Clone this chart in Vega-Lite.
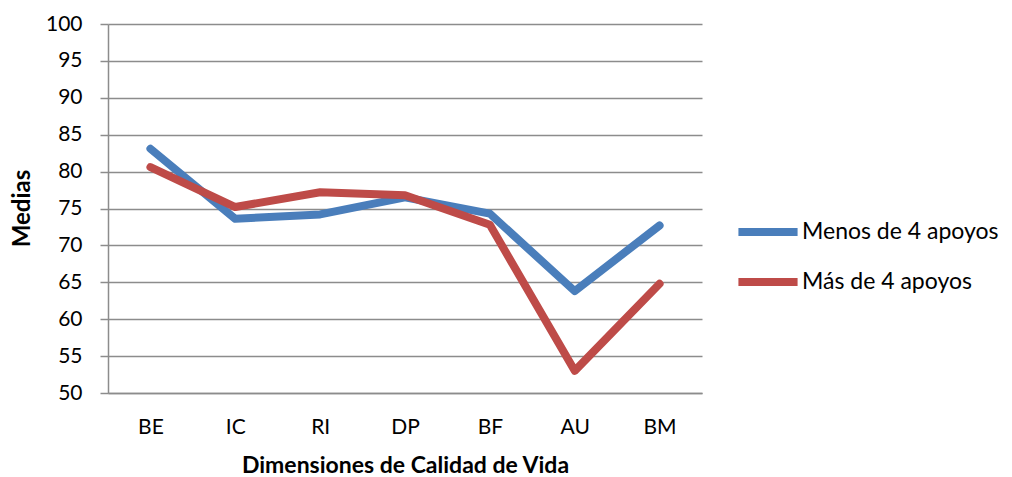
{
  "$schema": "https://vega.github.io/schema/vega-lite/v6.json",
  "width": 594,
  "height": 369,
  "autosize": "none",
  "padding": {"left": 108, "top": 24, "right": 310, "bottom": 84},
  "background": "white",
  "config": {
    "view": {"stroke": null},
    "font": "Lato",
    "axis": {"labelFont": "Lato", "titleFont": "Lato", "labelColor": "#000000", "titleColor": "#000000"}
  },
  "data": {
    "values": [
      {"dim": "BE", "grupo": "Menos de 4 apoyos", "media": 83.1},
      {"dim": "IC", "grupo": "Menos de 4 apoyos", "media": 73.6},
      {"dim": "RI", "grupo": "Menos de 4 apoyos", "media": 74.2},
      {"dim": "DP", "grupo": "Menos de 4 apoyos", "media": 76.5},
      {"dim": "BF", "grupo": "Menos de 4 apoyos", "media": 74.3},
      {"dim": "AU", "grupo": "Menos de 4 apoyos", "media": 63.8},
      {"dim": "BM", "grupo": "Menos de 4 apoyos", "media": 72.7},
      {"dim": "BE", "grupo": "Más de 4 apoyos", "media": 80.6},
      {"dim": "IC", "grupo": "Más de 4 apoyos", "media": 75.2},
      {"dim": "RI", "grupo": "Más de 4 apoyos", "media": 77.2},
      {"dim": "DP", "grupo": "Más de 4 apoyos", "media": 76.8},
      {"dim": "BF", "grupo": "Más de 4 apoyos", "media": 72.8},
      {"dim": "AU", "grupo": "Más de 4 apoyos", "media": 53.0},
      {"dim": "BM", "grupo": "Más de 4 apoyos", "media": 64.8}
    ]
  },
  "mark": {"type": "line", "strokeWidth": 8, "strokeCap": "round", "strokeJoin": "round"},
  "encoding": {
    "x": {
      "field": "dim",
      "type": "nominal",
      "sort": ["BE", "IC", "RI", "DP", "BF", "AU", "BM"],
      "scale": {"type": "point", "padding": 0.5},
      "axis": {
        "title": "Dimensiones de Calidad de Vida",
        "titleFontSize": 23,
        "titleFontWeight": "bold",
        "titleBaseline": "middle",
        "titleY": 72,
        "labelAngle": 0,
        "labelFontSize": 21,
        "labelPadding": 34,
        "labelBaseline": "middle",
        "ticks": false,
        "grid": false,
        "domainColor": "#8c8c8c",
        "domainWidth": 1.5
      }
    },
    "y": {
      "field": "media",
      "type": "quantitative",
      "scale": {"domain": [50, 100], "nice": false, "zero": false},
      "axis": {
        "title": "Medias",
        "titleFontSize": 24,
        "titleFontWeight": "bold",
        "titleX": -86,
        "titleY": 184,
        "titleBaseline": "middle",
        "titleAlign": "center",
        "values": [50, 55, 60, 65, 70, 75, 80, 85, 90, 95, 100],
        "labelFontSize": 21,
        "labelPadding": 18,
        "tickSize": 8,
        "tickColor": "#8c8c8c",
        "tickWidth": 1.5,
        "domainColor": "#8c8c8c",
        "domainWidth": 1.5,
        "gridColor": "#8c8c8c",
        "gridWidth": 1.5
      }
    },
    "color": {
      "field": "grupo",
      "type": "nominal",
      "sort": ["Menos de 4 apoyos", "Más de 4 apoyos"],
      "scale": {"domain": ["Menos de 4 apoyos", "Más de 4 apoyos"], "range": ["#4A7EBB", "#BE4B48"]},
      "legend": {
        "title": null,
        "orient": "none",
        "legendX": 626,
        "legendY": 174,
        "symbolType": "stroke",
        "symbolSize": 3500,
        "symbolStrokeWidth": 8,
        "labelFontSize": 23,
        "labelFont": "Lato",
        "labelColor": "#000000",
        "labelOffset": 0,
        "labelLimit": 400,
        "rowPadding": -14,
        "padding": 0
      }
    }
  }
}
